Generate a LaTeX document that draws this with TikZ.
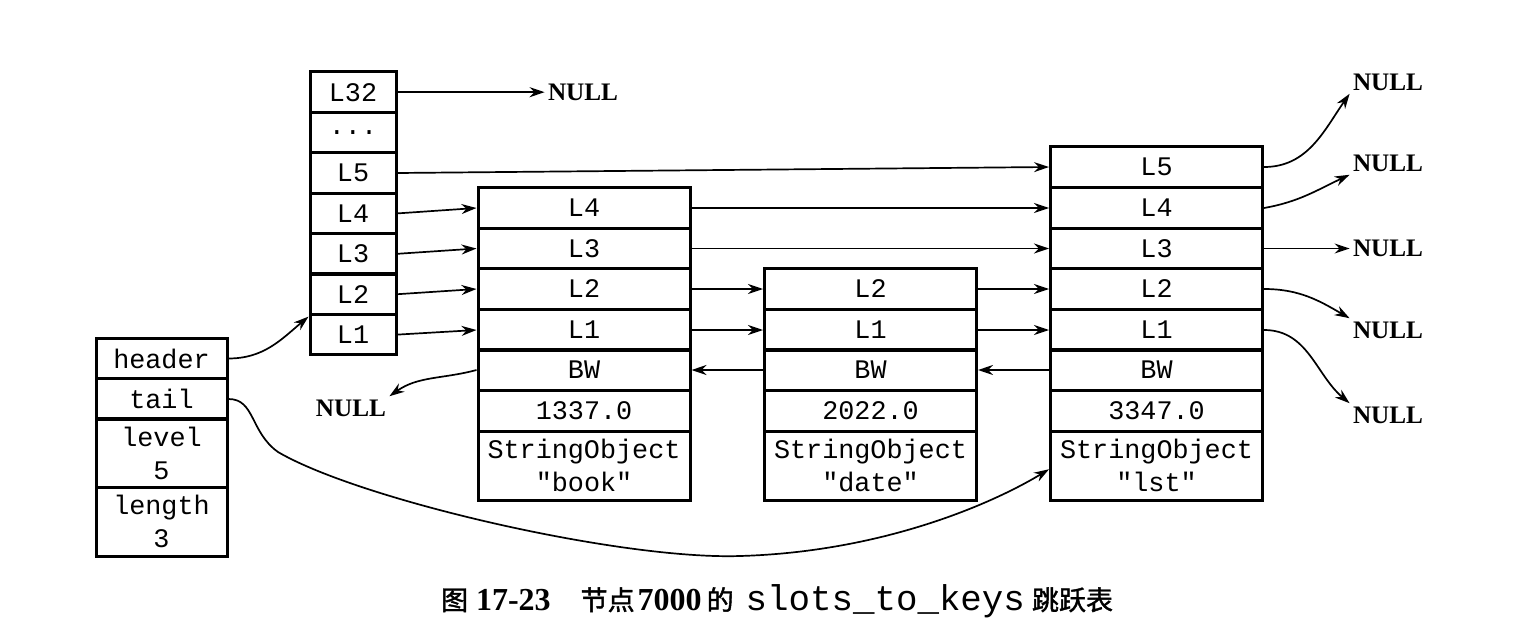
\documentclass[tikz,border=0pt]{standalone}
\usepackage{fontspec}
\setmainfont{Liberation Serif}
\newfontfamily\cellfont{Liberation Mono}
\newfontfamily\cjkfont{Noto Sans CJK SC}[FakeBold=1.5]
\usetikzlibrary{arrows.meta}
\newcommand{\capcjk}{\cjkfont\fontsize{13.5}{16}\selectfont}
\newcommand{\capnum}{\bfseries\fontsize{16}{18}\selectfont}
\newcommand{\capmono}{\cellfont\fontsize{17.9}{20}\selectfont}
\tikzset{
cell/.style = {rectangle, draw = black, line width = 1.5pt, inner sep = 0pt, minimum height = 20.3pt, font = \cellfont\fontsize{13.4}{16.5}\selectfont},
nodecell/.style = {cell, minimum width = 106pt},
lvcell/.style = {cell, minimum width = 43pt},
fieldcell/.style = {cell, minimum width = 65.5pt},
twoline/.style = {align = center, minimum height = 34.5pt},
nulltext/.style = {inner sep = 1.5pt, font = \bfseries\fontsize{12.6}{15}\selectfont},
ptr/.style = {-{Stealth[length=7.5pt, width=5pt]}, line width = 0.85pt},
}

\begin{document}
\begin{tikzpicture}[x=0.5pt, y=-0.5pt]
      \useasboundingbox (0,0) rectangle (1518,642);
      % zskiplist
      \node[fieldcell] (hdr) at (161.5,358.5) {header};
      \node[fieldcell] (tl) at (161.5,399) {tail};
      \node[fieldcell, twoline] (lvl) at (161.5,453) {level\\5};
      \node[fieldcell, twoline] (len) at (161.5,521.5) {length\\3};
      % header levels
      \node[lvcell] (lv32) at (353,92.2) {L32};
      \node[lvcell] (lvdots) at (353,132.6) {...};
      \node[lvcell] (lv5) at (353,173) {L5};
      \node[lvcell] (lv4) at (353,213.4) {L4};
      \node[lvcell] (lv3) at (353,253.8) {L3};
      \node[lvcell] (lv2) at (353,294.2) {L2};
      \node[lvcell] (lv1) at (353,334.6) {L1};
      % "book"
      \node[nodecell] (book4) at (584,208) {L4};
      \node[nodecell] (book3) at (584,248.5) {L3};
      \node[nodecell] (book2) at (584,289) {L2};
      \node[nodecell] (book1) at (584,330) {L1};
      \node[nodecell] (bookbw) at (584,370) {BW};
      \node[nodecell] (bookscore) at (584,411) {1337.0};
      \node[nodecell, twoline] (bookobj) at (584,465.5) {StringObject\\"book"};
      % "date"
      \node[nodecell] (date2) at (870.5,289) {L2};
      \node[nodecell] (date1) at (870.5,330) {L1};
      \node[nodecell] (datebw) at (870.5,370) {BW};
      \node[nodecell] (datescore) at (870.5,411) {2022.0};
      \node[nodecell, twoline] (dateobj) at (870.5,465.5) {StringObject\\"date"};
      % "lst"
      \node[nodecell] (lst5) at (1156.5,167) {L5};
      \node[nodecell] (lst4) at (1156.5,208) {L4};
      \node[nodecell] (lst3) at (1156.5,248.5) {L3};
      \node[nodecell] (lst2) at (1156.5,289) {L2};
      \node[nodecell] (lst1) at (1156.5,330) {L1};
      \node[nodecell] (lstbw) at (1156.5,370) {BW};
      \node[nodecell] (lstscore) at (1156.5,411) {3347.0};
      \node[nodecell, twoline] (lstobj) at (1156.5,465.5) {StringObject\\"lst"};
      % NULL ends
      \node[nulltext] (null32) at (583,92.2) {NULL};
      \node[nulltext] (nullbw) at (351,408) {NULL};
      \node[nulltext] (null5) at (1388,82) {NULL};
      \node[nulltext] (null4) at (1388,163) {NULL};
      \node[nulltext] (null3) at (1388,248.5) {NULL};
      \node[nulltext] (null2) at (1388,330) {NULL};
      \node[nulltext] (null1) at (1388,415) {NULL};
      % forward pointers
      \draw[ptr] (lv32.east) -- (null32.west);
      \draw[ptr] (lv5.east) -- (lst5.west);
      \draw[ptr] (lv4.east) -- (book4.west);
      \draw[ptr] (lv3.east) -- (book3.west);
      \draw[ptr] (lv2.east) -- (book2.west);
      \draw[ptr] (lv1.east) -- (book1.west);
      \draw[ptr] (book4.east) -- (lst4.west);
      \draw[ptr] (book3.east) -- (lst3.west);
      \draw[ptr] (book2.east) -- (date2.west);
      \draw[ptr] (book1.east) -- (date1.west);
      \draw[ptr] (date2.east) -- (lst2.west);
      \draw[ptr] (date1.east) -- (lst1.west);
      \draw[ptr] (lst5.east) to[out=0, in=235] (null5.south west);
      \draw[ptr] (lst4.east) to[out=10, in=205] (null4.south west);
      \draw[ptr] (lst3.east) -- (null3.west);
      \draw[ptr] (lst2.east) to[out=0, in=150] (null2.north west);
      \draw[ptr] (lst1.east) to[out=0, in=140] (null1.north west);
      % backward pointers
      \draw[ptr] (lstbw.west) -- (datebw.east);
      \draw[ptr] (datebw.west) -- (bookbw.east);
      \draw[ptr] (bookbw.west) to[out=195, in=35] (nullbw.north east);
      % header and tail
      \draw[ptr] (hdr.east) to[out=0, in=220] (lv1.158);
      \draw[ptr] (tl.east) .. controls (255,399) and (250,432) .. (278,452)
                 .. controls (360,500) and (620,560) .. (740,556)
                 .. controls (880,552) and (990,505) .. (lstobj.182);
      % caption
      \node[anchor=base, inner sep=0pt] (caption) at (777,610)
        {{\capcjk 图}\hspace{4pt}{\capnum 17-23}\hspace{15pt}{\capcjk 节点}\hspace{1.5pt}{\capnum 7000}\hspace{2.5pt}{\capcjk 的}\hspace{6pt}{\capmono slots\_to\_keys}\hspace{3.5pt}{\capcjk 跳跃表}};
\end{tikzpicture}
\end{document}
